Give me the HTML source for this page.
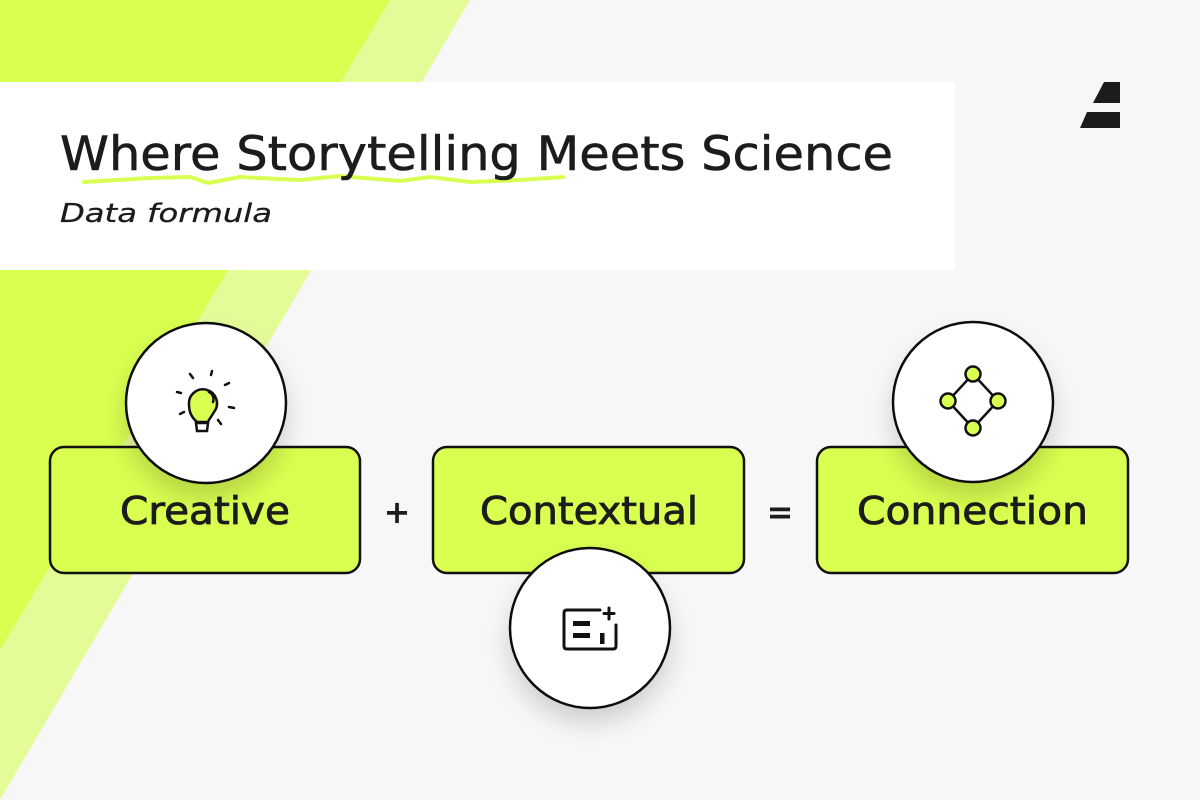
<!DOCTYPE html>
<html><head><meta charset="utf-8"><style>
html,body{margin:0;padding:0;width:1200px;height:800px;overflow:hidden;background:#f7f7f7}
</style></head><body>
<svg width="1200" height="800" viewBox="0 0 1200 800" xmlns="http://www.w3.org/2000/svg">
<defs>
<filter id="sh" x="-40%" y="-40%" width="180%" height="180%"><feDropShadow dx="0" dy="14" stdDeviation="12" flood-color="#000" flood-opacity="0.16"/></filter>
</defs>
<rect width="1200" height="800" fill="#f7f7f7"/>
<polygon points="390,0 470,0 0,800 0,650" fill="#e4fc98"/>
<polygon points="0,0 390,0 0,650" fill="#d9ff50"/>
<rect x="0" y="82" width="955" height="188" fill="#fff"/>
<path d="M84,182 L150,178 L190,177 L208,183 L240,177 L300,180 L340,176 L400,181 L430,177 L470,182 L520,180 L563,177" fill="none" stroke="#d9ff50" stroke-width="4" stroke-linecap="round" stroke-linejoin="round"/>
<text x="60" y="170" font-family="DejaVu Sans, sans-serif" font-size="47" fill="#1c1c1c" stroke="#1c1c1c" stroke-width="0.6" textLength="833" lengthAdjust="spacingAndGlyphs">Where Storytelling Meets Science</text>
<text x="60" y="222" font-family="DejaVu Sans, sans-serif" font-size="26" font-style="italic" fill="#1c1c1c" stroke="#1c1c1c" stroke-width="0.3" textLength="212" lengthAdjust="spacingAndGlyphs">Data formula</text>
<polygon points="1104,82 1120,82 1120,103 1093,103" fill="#1c1c1c"/>
<polygon points="1087,112 1120,112 1120,128 1080,128" fill="#1c1c1c"/>

<g stroke="#111" stroke-width="2.5" fill="#d9ff50">
<rect x="50" y="447" width="310" height="126" rx="14"/>
<rect x="433" y="447" width="311" height="126" rx="14"/>
<rect x="817" y="447" width="311" height="126" rx="14"/>
</g>
<g font-family="DejaVu Sans, sans-serif" font-size="38" fill="#1c1c1c" stroke="#1c1c1c" stroke-width="0.8">
<text x="120" y="524" textLength="170" lengthAdjust="spacingAndGlyphs">Creative</text>
<text x="480" y="524" textLength="218" lengthAdjust="spacingAndGlyphs">Contextual</text>
<text x="857" y="524" textLength="231" lengthAdjust="spacingAndGlyphs">Connection</text>
<text x="397" y="523" font-size="32" font-weight="bold" text-anchor="middle" stroke-width="0">+</text>
<text x="780" y="523" font-size="32" font-weight="bold" text-anchor="middle" stroke-width="0">=</text>
</g>
<g fill="#fff" stroke="#111" stroke-width="2.5" filter="url(#sh)">
<circle cx="206" cy="403" r="80"/>
<circle cx="590" cy="628" r="80"/>
<circle cx="973" cy="402" r="80"/>
</g>
<!-- bulb -->
<g stroke="#111" stroke-width="2.5" stroke-linecap="round" fill="none">
<path d="M197,422 C190,416 189,410 189,404 A14,14 0 1 1 214,412 C212,416 209,419 208,422 Z" fill="#d9ff50"/>
<path d="M196,423 L208,423 L207,431 L197,431 Z" fill="#fff"/>
<path d="M209,392 A8,8 0 0 1 213,402"/>
<line x1="190" y1="374" x2="193" y2="378"/><line x1="212" y1="371" x2="211" y2="375"/>
<line x1="225" y1="385" x2="229" y2="383"/><line x1="177" y1="392" x2="181" y2="393"/>
<line x1="229" y1="407" x2="234" y2="408"/><line x1="180" y1="414" x2="184" y2="412"/>
<line x1="218" y1="420" x2="221" y2="424"/>
</g>
<!-- network -->
<g stroke="#111" stroke-width="2.5">
<polygon points="973,374 998,401 973,428 948,401" fill="none"/>
<g fill="#d9ff50"><circle cx="973" cy="374" r="7.5"/><circle cx="948" cy="401" r="7.5"/><circle cx="998" cy="401" r="7.5"/><circle cx="973" cy="428" r="7.5"/></g>
</g>
<!-- contextual icon -->
<g stroke="#111" stroke-width="3" fill="none" stroke-linecap="round">
<path d="M600,610 L567,610 Q564,610 564,613 L564,646 Q564,649 567,649 L613,649 Q616,649 616,646 L616,625"/>
<line x1="609" y1="608" x2="609" y2="619"/><line x1="604" y1="613.5" x2="614" y2="613.5"/>
</g>
<g fill="#111"><rect x="573" y="621" width="17" height="5"/><rect x="573" y="633" width="17" height="5"/><rect x="600" y="633" width="4.5" height="11"/></g>
</svg>
</body></html>
